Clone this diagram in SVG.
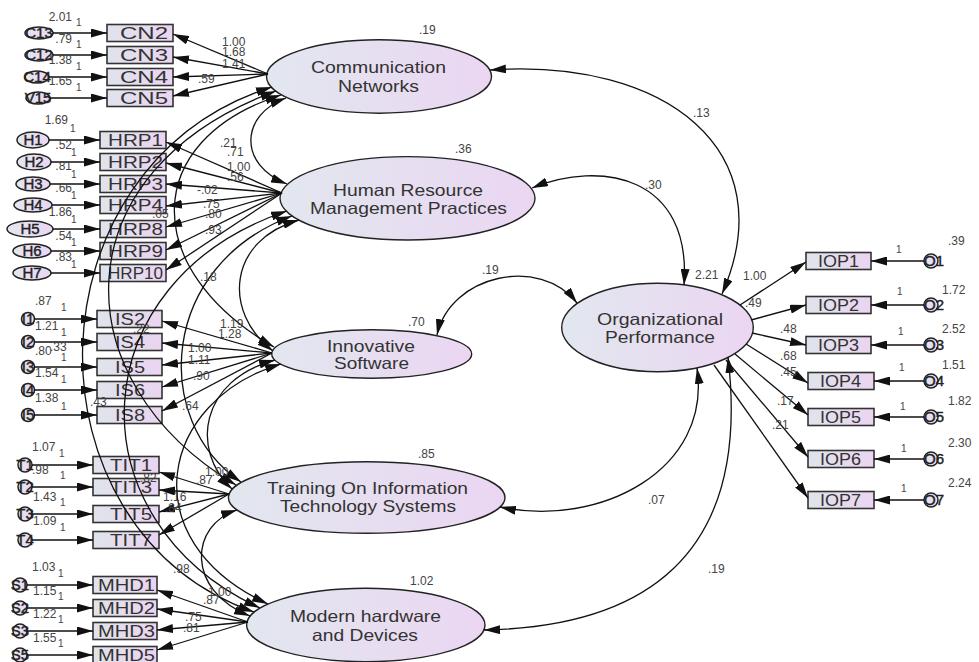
<svg xmlns="http://www.w3.org/2000/svg" width="979" height="662" viewBox="0 0 979 662">
<defs>
<linearGradient id="gb" x1="0" y1="0" x2="1" y2="0"><stop offset="0" stop-color="#dfe4ec"/><stop offset="1" stop-color="#ebd4f0"/></linearGradient>
<linearGradient id="ge" x1="0" y1="0" x2="1" y2="0"><stop offset="0" stop-color="#e2e7ef"/><stop offset="1" stop-color="#ebd6f2"/></linearGradient>
<marker id="ah" viewBox="0 0 16 9" refX="16" refY="4.5" markerWidth="16" markerHeight="9" markerUnits="userSpaceOnUse" orient="auto-start-reverse"><path d="M0,0 L16,4.5 L0,9 z" fill="#111"/></marker>
<style>
.box{fill:url(#gb);stroke:#333;stroke-width:1.6}
.lat{fill:url(#ge);stroke:#222;stroke-width:1.4}
.err{fill:url(#ge);stroke:#222;stroke-width:1.5}
text{font-family:"Liberation Sans",Arial,sans-serif;fill:#333}
.bt{font-size:16px}
.lt{font-size:16.5px}
.et{font-size:15px;text-anchor:middle;fill:#222;stroke:#222;stroke-width:0.4}
.n{font-size:12px;fill:#444}
.s{font-size:10px;fill:#444}
.c{fill:none;stroke:#111;stroke-width:1.3}
.a{marker-end:url(#ah)}
.d{marker-start:url(#ah);marker-end:url(#ah)}
</style>
</defs>
<rect width="979" height="662" fill="#ffffff"/>

<!-- latent variables -->
<g id="CN"><ellipse class="lat" cx="379" cy="76.5" rx="112.5" ry="36.7"/><text class="lt" x="311" y="73" textLength="135" lengthAdjust="spacingAndGlyphs">Communication</text><text class="lt" x="338" y="92" textLength="81" lengthAdjust="spacingAndGlyphs">Networks</text></g>
<g id="HRM"><ellipse class="lat" cx="407.5" cy="198.3" rx="127.5" ry="41.7"/><text class="lt" x="333" y="196" textLength="150" lengthAdjust="spacingAndGlyphs">Human Resource</text><text class="lt" x="310" y="214" textLength="197" lengthAdjust="spacingAndGlyphs">Management Practices</text></g>
<g id="IS"><ellipse class="lat" cx="371.7" cy="354" rx="100" ry="24.2"/><text class="lt" x="327" y="352" textLength="88" lengthAdjust="spacingAndGlyphs">Innovative</text><text class="lt" x="334" y="369" textLength="75" lengthAdjust="spacingAndGlyphs">Software</text></g>
<g id="TIT"><ellipse class="lat" cx="366.7" cy="497.5" rx="138.3" ry="35.8"/><text class="lt" x="267" y="494" textLength="201" lengthAdjust="spacingAndGlyphs">Training On Information</text><text class="lt" x="280" y="512" textLength="176" lengthAdjust="spacingAndGlyphs">Technology Systems</text></g>
<g id="MHD"><ellipse class="lat" cx="365.8" cy="625" rx="119.2" ry="36.7"/><text class="lt" x="290" y="622" textLength="151" lengthAdjust="spacingAndGlyphs">Modern hardware</text><text class="lt" x="312" y="641" textLength="106" lengthAdjust="spacingAndGlyphs">and Devices</text></g>
<g id="OP"><ellipse class="lat" cx="657.5" cy="327.5" rx="95.8" ry="44.2"/><text class="lt" x="597" y="325" textLength="126" lengthAdjust="spacingAndGlyphs">Organizational</text><text class="lt" x="605" y="343" textLength="110" lengthAdjust="spacingAndGlyphs">Performance</text></g>

<!-- indicator boxes -->
<g id="CN2"><rect class="box" x="107" y="24.5" width="66" height="17"/><text class="bt" x="120" y="39" textLength="48" lengthAdjust="spacingAndGlyphs">CN2</text></g>
<g id="CN3"><rect class="box" x="107" y="46.5" width="66" height="17"/><text class="bt" x="120" y="61" textLength="48" lengthAdjust="spacingAndGlyphs">CN3</text></g>
<g id="CN4"><rect class="box" x="107" y="68.5" width="66" height="17"/><text class="bt" x="120" y="83" textLength="48" lengthAdjust="spacingAndGlyphs">CN4</text></g>
<g id="CN5"><rect class="box" x="107" y="89.5" width="66" height="17"/><text class="bt" x="120" y="104" textLength="48" lengthAdjust="spacingAndGlyphs">CN5</text></g>

<g id="HRP1"><rect class="box" x="100" y="131.5" width="66" height="17"/><text class="bt" x="108" y="146" textLength="55" lengthAdjust="spacingAndGlyphs">HRP1</text></g>
<g id="HRP2"><rect class="box" x="100" y="153.5" width="66" height="17"/><text class="bt" x="108" y="168" textLength="55" lengthAdjust="spacingAndGlyphs">HRP2</text></g>
<g id="HRP3"><rect class="box" x="100" y="175.5" width="66" height="17"/><text class="bt" x="108" y="190" textLength="55" lengthAdjust="spacingAndGlyphs">HRP3</text></g>
<g id="HRP4"><rect class="box" x="100" y="196.5" width="66" height="17"/><text class="bt" x="108" y="211" textLength="55" lengthAdjust="spacingAndGlyphs">HRP4</text></g>
<g id="HRP8"><rect class="box" x="100" y="220.5" width="66" height="17"/><text class="bt" x="108" y="235" textLength="55" lengthAdjust="spacingAndGlyphs">HRP8</text></g>
<g id="HRP9"><rect class="box" x="100" y="242.5" width="66" height="17"/><text class="bt" x="108" y="257" textLength="55" lengthAdjust="spacingAndGlyphs">HRP9</text></g>
<g id="HRP10"><rect class="box" x="100" y="264.5" width="66" height="17"/><text class="bt" x="108" y="279" textLength="55" lengthAdjust="spacingAndGlyphs">HRP10</text></g>

<g id="IS2"><rect class="box" x="97" y="310.5" width="65" height="17"/><text class="bt" x="115" y="325" textLength="30" lengthAdjust="spacingAndGlyphs">IS2</text></g>
<g id="IS4"><rect class="box" x="97" y="333.5" width="65" height="17"/><text class="bt" x="115" y="348" textLength="30" lengthAdjust="spacingAndGlyphs">IS4</text></g>
<g id="IS5"><rect class="box" x="97" y="358.5" width="65" height="17"/><text class="bt" x="115" y="373" textLength="30" lengthAdjust="spacingAndGlyphs">IS5</text></g>
<g id="IS6"><rect class="box" x="97" y="381.5" width="65" height="17"/><text class="bt" x="115" y="396" textLength="30" lengthAdjust="spacingAndGlyphs">IS6</text></g>
<g id="IS8"><rect class="box" x="97" y="406.5" width="65" height="17"/><text class="bt" x="115" y="421" textLength="30" lengthAdjust="spacingAndGlyphs">IS8</text></g>

<g id="TIT1"><rect class="box" x="93" y="456.5" width="66" height="17"/><text class="bt" x="110" y="471" textLength="42" lengthAdjust="spacingAndGlyphs">TIT1</text></g>
<g id="TIT3"><rect class="box" x="93" y="478.5" width="66" height="17"/><text class="bt" x="110" y="493" textLength="42" lengthAdjust="spacingAndGlyphs">TIT3</text></g>
<g id="TIT5"><rect class="box" x="93" y="505.5" width="66" height="17"/><text class="bt" x="110" y="520" textLength="42" lengthAdjust="spacingAndGlyphs">TIT5</text></g>
<g id="TIT7"><rect class="box" x="93" y="531.5" width="66" height="17"/><text class="bt" x="110" y="546" textLength="42" lengthAdjust="spacingAndGlyphs">TIT7</text></g>

<g id="MHD1"><rect class="box" x="93" y="576.5" width="64" height="17"/><text class="bt" x="98" y="591" textLength="57" lengthAdjust="spacingAndGlyphs">MHD1</text></g>
<g id="MHD2"><rect class="box" x="93" y="599.5" width="64" height="17"/><text class="bt" x="98" y="614" textLength="57" lengthAdjust="spacingAndGlyphs">MHD2</text></g>
<g id="MHD3"><rect class="box" x="93" y="622.5" width="64" height="17"/><text class="bt" x="98" y="637" textLength="57" lengthAdjust="spacingAndGlyphs">MHD3</text></g>
<g id="MHD5"><rect class="box" x="93" y="646.5" width="64" height="17"/><text class="bt" x="98" y="661" textLength="57" lengthAdjust="spacingAndGlyphs">MHD5</text></g>

<g id="IOP1"><rect class="box" x="806" y="252.5" width="65" height="17"/><text class="bt" x="818" y="267" textLength="41" lengthAdjust="spacingAndGlyphs">IOP1</text></g>
<g id="IOP2"><rect class="box" x="806" y="296.5" width="65" height="17"/><text class="bt" x="818" y="311" textLength="41" lengthAdjust="spacingAndGlyphs">IOP2</text></g>
<g id="IOP3"><rect class="box" x="806" y="336.5" width="65" height="17"/><text class="bt" x="818" y="351" textLength="41" lengthAdjust="spacingAndGlyphs">IOP3</text></g>
<g id="IOP4"><rect class="box" x="808" y="372.5" width="66" height="17"/><text class="bt" x="820" y="387" textLength="41" lengthAdjust="spacingAndGlyphs">IOP4</text></g>
<g id="IOP5"><rect class="box" x="808" y="408.5" width="66" height="17"/><text class="bt" x="820" y="423" textLength="41" lengthAdjust="spacingAndGlyphs">IOP5</text></g>
<g id="IOP6"><rect class="box" x="808" y="450.5" width="66" height="17"/><text class="bt" x="820" y="465" textLength="41" lengthAdjust="spacingAndGlyphs">IOP6</text></g>
<g id="IOP7"><rect class="box" x="808" y="491.5" width="66" height="17"/><text class="bt" x="820" y="506" textLength="41" lengthAdjust="spacingAndGlyphs">IOP7</text></g>

<!-- error terms -->
<g id="eC13"><ellipse class="err" cx="39" cy="33" rx="14" ry="6"/><text class="et" x="39" y="38">C13</text></g>
<g id="eC12"><ellipse class="err" cx="39" cy="55" rx="14" ry="6"/><text class="et" x="39" y="60">C12</text></g>
<g id="eC14"><ellipse class="err" cx="37" cy="77" rx="12" ry="6"/><text class="et" x="37" y="82">C14</text></g>
<g id="eV15"><ellipse class="err" cx="38" cy="98" rx="12" ry="6"/><text class="et" x="38" y="103">V15</text></g>

<g id="eH1"><ellipse class="err" cx="33" cy="140" rx="16" ry="8"/><text class="et" x="33" y="145">H1</text></g>
<g id="eH2"><ellipse class="err" cx="34" cy="162" rx="17" ry="8"/><text class="et" x="34" y="167">H2</text></g>
<g id="eH3"><ellipse class="err" cx="33" cy="184" rx="17" ry="7"/><text class="et" x="33" y="189">H3</text></g>
<g id="eH4"><ellipse class="err" cx="33" cy="205" rx="19" ry="7"/><text class="et" x="33" y="210">H4</text></g>
<g id="eH5"><ellipse class="err" cx="30" cy="229" rx="23" ry="8"/><text class="et" x="30" y="234">H5</text></g>
<g id="eH6"><ellipse class="err" cx="32" cy="251" rx="19" ry="7"/><text class="et" x="32" y="256">H6</text></g>
<g id="eH7"><ellipse class="err" cx="32" cy="273" rx="19" ry="7"/><text class="et" x="32" y="278">H7</text></g>

<g id="eI1"><circle class="err" cx="28" cy="319" r="6.5"/><text class="et" x="28" y="324">I1</text></g>
<g id="eI2"><circle class="err" cx="28" cy="342" r="6.5"/><text class="et" x="28" y="347">I2</text></g>
<g id="eI3"><circle class="err" cx="28" cy="367" r="6.5"/><text class="et" x="28" y="372">I3</text></g>
<g id="eI4"><circle class="err" cx="28" cy="390" r="6.5"/><text class="et" x="28" y="395">I4</text></g>
<g id="eI5"><circle class="err" cx="28" cy="415" r="6.5"/><text class="et" x="28" y="420">I5</text></g>

<g id="eT1"><circle class="err" cx="25" cy="465" r="7"/><text class="et" x="25" y="470">T1</text></g>
<g id="eT2"><circle class="err" cx="25" cy="487" r="7"/><text class="et" x="25" y="492">T2</text></g>
<g id="eT3"><circle class="err" cx="25" cy="514" r="7"/><text class="et" x="25" y="519">T3</text></g>
<g id="eT4"><circle class="err" cx="25" cy="540" r="7"/><text class="et" x="25" y="545">T4</text></g>

<g id="eS1"><circle class="err" cx="20" cy="585" r="7"/><text class="et" x="20" y="590">S1</text></g>
<g id="eS2"><circle class="err" cx="20" cy="608" r="7"/><text class="et" x="20" y="613">S2</text></g>
<g id="eS3"><circle class="err" cx="20" cy="631" r="7"/><text class="et" x="20" y="636">S3</text></g>
<g id="eS5"><circle class="err" cx="20" cy="655" r="7"/><text class="et" x="20" y="660">S5</text></g>

<g id="eO1"><circle class="err" cx="931" cy="261" r="7"/><text class="et" x="934" y="266">O1</text></g>
<g id="eO2"><circle class="err" cx="931" cy="305" r="7"/><text class="et" x="934" y="310">O2</text></g>
<g id="eO3"><circle class="err" cx="931" cy="345" r="7"/><text class="et" x="934" y="350">O3</text></g>
<g id="eO4"><circle class="err" cx="931" cy="381" r="7"/><text class="et" x="934" y="386">O4</text></g>
<g id="eO5"><circle class="err" cx="931" cy="417" r="7"/><text class="et" x="934" y="422">O5</text></g>
<g id="eO6"><circle class="err" cx="931" cy="459" r="7"/><text class="et" x="934" y="464">O6</text></g>
<g id="eO7"><circle class="err" cx="931" cy="500" r="7"/><text class="et" x="934" y="505">O7</text></g>

<!-- connectors -->
<g id="connectors" class="c">
<path class="a" d="M53 33H107"/><path class="a" d="M53 55H107"/><path class="a" d="M49 77H107"/><path class="a" d="M50 98H107"/>
<path class="a" d="M49 140H100"/><path class="a" d="M51 162H100"/><path class="a" d="M50 184H100"/><path class="a" d="M52 205H100"/><path class="a" d="M53 229H100"/><path class="a" d="M51 251H100"/><path class="a" d="M51 273H100"/>
<path class="a" d="M34 319H97"/><path class="a" d="M34 342H97"/><path class="a" d="M34 367H97"/><path class="a" d="M34 390H97"/><path class="a" d="M34 415H97"/>
<path class="a" d="M32 465H93"/><path class="a" d="M32 487H93"/><path class="a" d="M32 514H93"/><path class="a" d="M32 540H93"/>
<path class="a" d="M27 585H93"/><path class="a" d="M27 608H93"/><path class="a" d="M27 631H93"/><path class="a" d="M27 655H93"/>
<path class="a" d="M924 261H871"/><path class="a" d="M924 305H871"/><path class="a" d="M924 345H871"/><path class="a" d="M924 381H874"/><path class="a" d="M924 417H874"/><path class="a" d="M924 459H874"/><path class="a" d="M924 500H874"/>
<path class="a" d="M268 74L173 34"/><path class="a" d="M268 74L173 57"/><path class="a" d="M268 74L173 77"/><path class="a" d="M268 74L173 96"/>
<path class="a" d="M282 193L166 142"/><path class="a" d="M282 193L166 163"/><path class="a" d="M282 193L166 184"/><path class="a" d="M282 193L166 206"/><path class="a" d="M282 193L166 227"/><path class="a" d="M282 193L166 250"/><path class="a" d="M282 193L166 270"/>
<path class="a" d="M272 353L162 321"/><path class="a" d="M272 353L162 343"/><path class="a" d="M272 353L162 365"/><path class="a" d="M272 353L162 387"/><path class="a" d="M272 353L162 411"/>
<path class="a" d="M229 494L159 472"/><path class="a" d="M229 494L159 490"/><path class="a" d="M229 494L159 512"/><path class="a" d="M229 494L159 535"/>
<path class="a" d="M248 622L157 590"/><path class="a" d="M248 622L157 609"/><path class="a" d="M248 622L157 630"/><path class="a" d="M248 622L157 650"/>
<path class="a" d="M740 305L806 262"/><path class="a" d="M751 320L806 305"/><path class="a" d="M752 333L806 345"/><path class="a" d="M746 344L808 383"/><path class="a" d="M735 354L808 415"/><path class="a" d="M726 360L808 457"/><path class="a" d="M714 365L808 498"/>
<path class="d" d="M490 70C665 58 785 150 722 294"/>
<path class="d" d="M532 188C600 160 692 175 684 285"/>
<path class="d" d="M437 335C450 275 540 255 577 303"/>
<path class="d" d="M500 507C600 528 712 470 697 368"/>
<path class="d" d="M484 630C640 627 752 560 728 357"/>
<path class="d" d="M286 98C240 115 238 165 287 184"/>
<path class="d" d="M281 95C140 140 140 270 274 347"/>
<path class="d" d="M276 91C60 170 60 380 236 485"/>
<path class="d" d="M272 87C25 165 20 530 254 612"/>
<path class="d" d="M299 220C228 240 222 312 273 351"/>
<path class="d" d="M292 216C160 265 150 420 241 482"/>
<path class="d" d="M287 211C80 280 70 520 260 608"/>
<path class="d" d="M275 360C200 380 190 450 232 489"/>
<path class="d" d="M281 364C160 400 130 540 268 604"/>
<path class="d" d="M237 510C190 525 185 590 250 616"/>
</g>

<!-- estimates -->
<g id="labels">
<text class="n" x="419" y="34">.19</text>
<text class="n" x="455" y="153">.36</text>
<text class="n" x="408" y="326">.70</text>
<text class="n" x="418" y="458">.85</text>
<text class="n" x="410" y="585">1.02</text>
<text class="n" x="695" y="279">2.21</text>
<text class="n" x="693" y="117">.13</text>
<text class="n" x="645" y="189">.30</text>
<text class="n" x="482" y="274">.19</text>
<text class="n" x="648" y="504">.07</text>
<text class="n" x="708" y="573">.19</text>
<text class="n" x="222" y="46">1.00</text><text class="n" x="222" y="56">1.68</text><text class="n" x="222" y="68">1.41</text><text class="n" x="198" y="83">.59</text>
<text class="n" x="72" y="21" text-anchor="end">2.01</text><text class="n" x="72" y="43" text-anchor="end">.79</text><text class="n" x="72" y="64" text-anchor="end">1.38</text><text class="n" x="72" y="85" text-anchor="end">1.65</text>
<text class="s" x="76" y="26">1</text><text class="s" x="76" y="48">1</text><text class="s" x="76" y="70">1</text><text class="s" x="76" y="91">1</text>
<text class="n" x="220" y="147">.21</text><text class="n" x="227" y="156">.71</text><text class="n" x="227" y="171">1.00</text><text class="n" x="227" y="181">.56</text><text class="n" x="197" y="194">-.02</text><text class="n" x="203" y="208">.75</text><text class="n" x="205" y="218">.80</text><text class="n" x="152" y="218">.05</text><text class="n" x="205" y="234">.93</text><text class="n" x="200" y="281">.18</text>
<text class="n" x="68" y="124" text-anchor="end">1.69</text><text class="n" x="72" y="149" text-anchor="end">.52</text><text class="n" x="72" y="170" text-anchor="end">.81</text><text class="n" x="72" y="192" text-anchor="end">.66</text><text class="n" x="72" y="216" text-anchor="end">1.86</text><text class="n" x="72" y="240" text-anchor="end">.54</text><text class="n" x="72" y="261" text-anchor="end">.83</text>
<text class="s" x="70" y="132">1</text><text class="s" x="71" y="156">1</text><text class="s" x="71" y="178">1</text><text class="s" x="71" y="199">1</text><text class="s" x="71" y="223">1</text><text class="s" x="71" y="246">1</text><text class="s" x="71" y="268">1</text>
<text class="n" x="220" y="328">1.19</text><text class="n" x="218" y="338">1.28</text><text class="n" x="188" y="352">1.00</text><text class="n" x="188" y="364">1.11</text><text class="n" x="193" y="380">.90</text><text class="n" x="182" y="410">.64</text><text class="n" x="133" y="333">.22</text><text class="n" x="90" y="406">.43</text><text class="n" x="50" y="351">.33</text>
<text class="n" x="35" y="305">.87</text><text class="n" x="35" y="330">1.21</text><text class="n" x="35" y="355">.80</text><text class="n" x="35" y="377">1.54</text><text class="n" x="35" y="402">1.38</text>
<text class="s" x="61" y="311">1</text><text class="s" x="61" y="336">1</text><text class="s" x="61" y="361">1</text><text class="s" x="61" y="383">1</text><text class="s" x="61" y="410">1</text>
<text class="n" x="205" y="476">1.00</text><text class="n" x="196" y="484">.87</text><text class="n" x="140" y="482">.82</text><text class="n" x="163" y="501">1.16</text><text class="n" x="165" y="512">.84</text>
<text class="n" x="32" y="451">1.07</text><text class="n" x="32" y="474">.98</text><text class="n" x="33" y="501">1.43</text><text class="n" x="33" y="525">1.09</text>
<text class="s" x="59" y="457">1</text><text class="s" x="60" y="479">1</text><text class="s" x="60" y="506">1</text><text class="s" x="60" y="531">1</text>
<text class="n" x="173" y="573">.98</text><text class="n" x="208" y="596">1.00</text><text class="n" x="203" y="604">.87</text><text class="n" x="185" y="621">.75</text><text class="n" x="183" y="632">.81</text>
<text class="n" x="32" y="571">1.03</text><text class="n" x="33" y="595">1.15</text><text class="n" x="33" y="618">1.22</text><text class="n" x="33" y="642">1.55</text>
<text class="s" x="58" y="577">1</text><text class="s" x="58" y="600">1</text><text class="s" x="58" y="623">1</text><text class="s" x="58" y="647">1</text>
<text class="n" x="743" y="280">1.00</text><text class="n" x="745" y="307">.49</text><text class="n" x="780" y="333">.48</text><text class="n" x="780" y="360">.68</text><text class="n" x="780" y="376">.45</text><text class="n" x="777" y="405">.17</text><text class="n" x="772" y="429">.21</text>
<text class="n" x="948" y="245">.39</text><text class="n" x="942" y="294">1.72</text><text class="n" x="942" y="333">2.52</text><text class="n" x="942" y="369">1.51</text><text class="n" x="948" y="405">1.82</text><text class="n" x="948" y="447">2.30</text><text class="n" x="948" y="487">2.24</text>
<text class="s" x="896" y="253">1</text><text class="s" x="897" y="295">1</text><text class="s" x="898" y="335">1</text><text class="s" x="899" y="371">1</text><text class="s" x="900" y="410">1</text><text class="s" x="901" y="452">1</text><text class="s" x="901" y="492">1</text>
</g>
</svg>
